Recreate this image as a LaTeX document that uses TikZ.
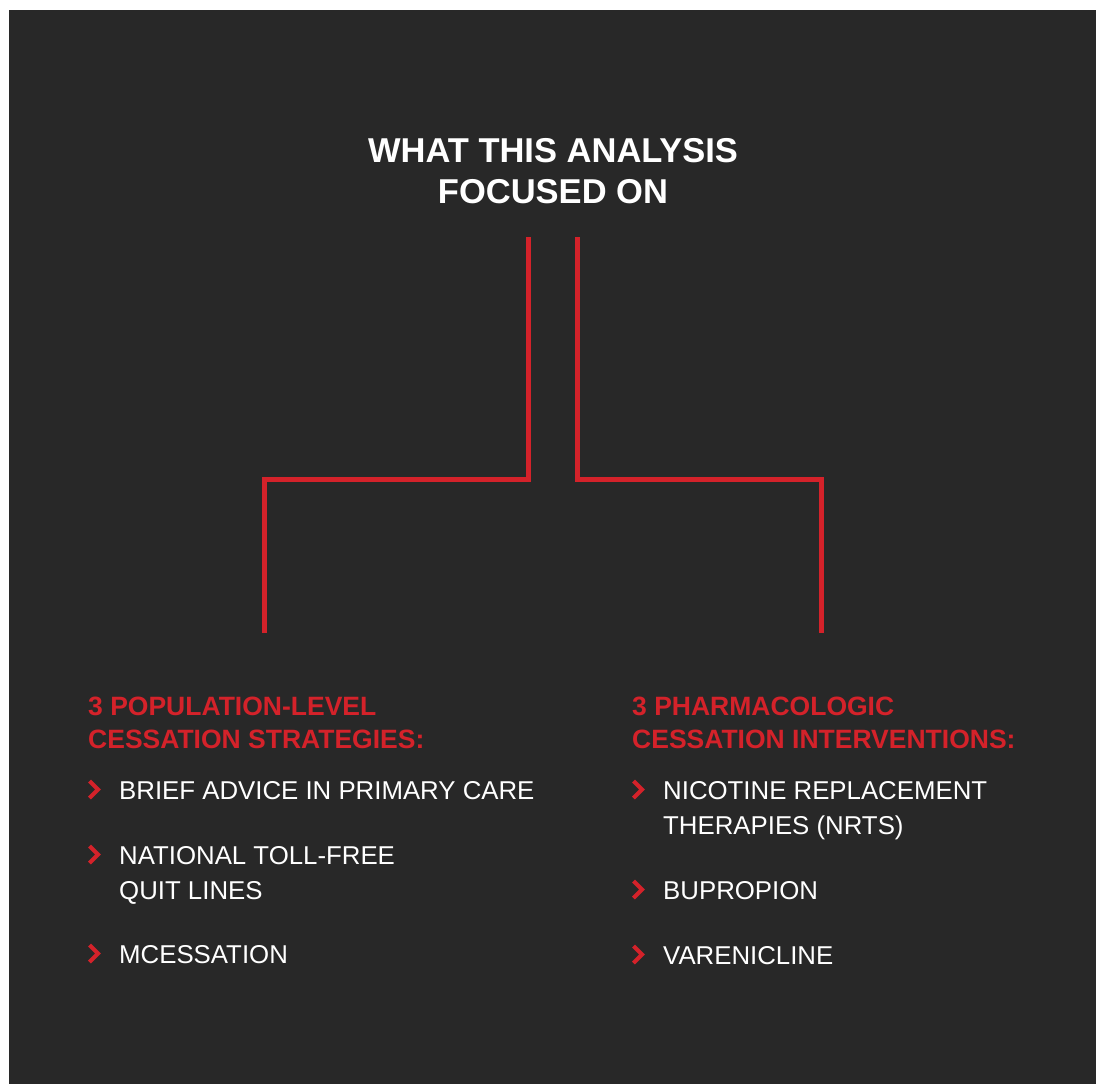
\documentclass[tikz,border=0pt]{standalone}
\usepackage{fontspec}
\setmainfont{Liberation Sans}
\definecolor{bgdark}{HTML}{282828}
\definecolor{accent}{HTML}{D4222A}
\begin{document}
\begin{tikzpicture}[x=1pt,y=-1pt,
  titletext/.style={text=white,font=\fontsize{34.5}{41}\selectfont\bfseries,align=center,inner sep=0pt},
  headtext/.style={text=accent,font=\fontsize{26.5}{33}\selectfont\bfseries,align=left,inner sep=0pt,anchor=base west},
  itemtext/.style={text=white,font=\fontsize{25.8}{35}\selectfont,align=left,inner sep=0pt,anchor=base west},
  branch/.style={draw=accent,line width=5pt},
  chev/.style={draw=accent,line width=4pt,miter limit=10}
]
\useasboundingbox (0,0) rectangle (1096,1084);
\fill[white] (0,0) rectangle (1096,1084);
\fill[bgdark] (9,10) rectangle (1096,1084);

% title (base anchor = last line baseline)
\node[titletext,anchor=base] (title) at (553,203) {WHAT THIS ANALYSIS\\FOCUSED ON};
\coordinate (t1) at (528.5,237);
\coordinate (t2) at (577.5,237);
\coordinate (l1) at (264.5,633);
\coordinate (r1) at (821,633);

\draw[branch] (t1) -- (528.5,479) -- (264.5,479) -- (l1);
\draw[branch] (t2) -- (577.5,479) -- (821,479) -- (r1);

% left column
\node[headtext] (lh) at (88,748) {3 POPULATION-LEVEL\\CESSATION STRATEGIES:};
\node[itemtext] (li1) at (119,799) {BRIEF ADVICE IN PRIMARY CARE};
\node[itemtext] (li2) at (119,899) {NATIONAL TOLL-FREE\\QUIT LINES};
\node[itemtext] (li3) at (119,963) {MCESSATION};

% right column
\node[headtext] (rh) at (632,748) {3 PHARMACOLOGIC\\CESSATION INTERVENTIONS:};
\node[itemtext] (ri1) at (663,834) {NICOTINE REPLACEMENT\\THERAPIES (NRTS)};
\node[itemtext] (ri2) at (663,899) {BUPROPION};
\node[itemtext] (ri3) at (663,964) {VARENICLINE};

% chevrons
\foreach \cx/\cy in {88/798, 88/863, 88/962, 632/798, 632/898, 632/963}{
  \draw[chev] (\cx+1.5,\cy-17) -- (\cx+10,\cy-8.5) -- (\cx+1.5,\cy);
}
\end{tikzpicture}
\end{document}
